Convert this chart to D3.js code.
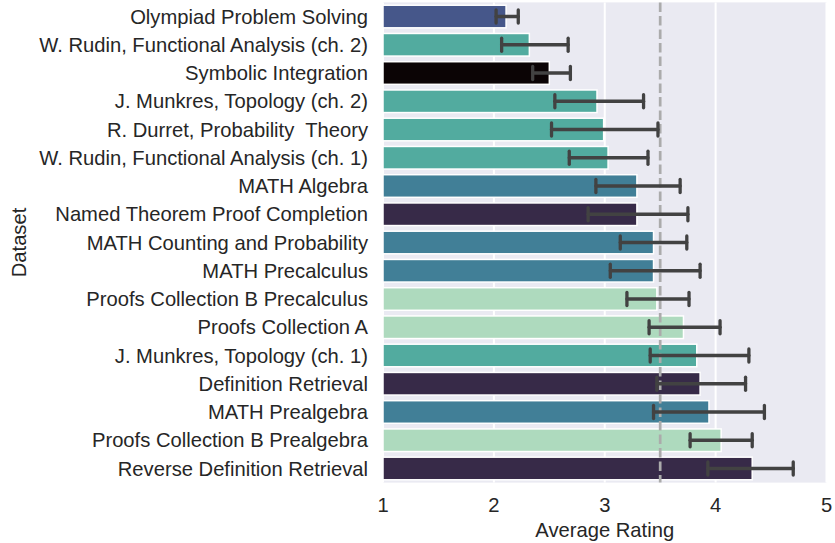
<!DOCTYPE html>
<html>
<head>
<meta charset="utf-8">
<script src="https://cdn.jsdelivr.net/npm/d3@7"></script>
<style>
  html, body { margin: 0; padding: 0; background: #fff; }
  svg { display: block; font-family: "Liberation Sans", Arial, sans-serif; }
  text { white-space: pre; }
</style>
</head>
<body>
<svg id="chart" width="835" height="543"></svg>
<script>
const categories = [
  "Olympiad Problem Solving",
  "W. Rudin, Functional Analysis (ch. 2)",
  "Symbolic Integration",
  "J. Munkres, Topology (ch. 2)",
  "R. Durret, Probability  Theory",
  "W. Rudin, Functional Analysis (ch. 1)",
  "MATH Algebra",
  "Named Theorem Proof Completion",
  "MATH Counting and Probability",
  "MATH Precalculus",
  "Proofs Collection B Precalculus",
  "Proofs Collection A",
  "J. Munkres, Topology (ch. 1)",
  "Definition Retrieval",
  "MATH Prealgebra",
  "Proofs Collection B Prealgebra",
  "Reverse Definition Retrieval"
];
const means = [2.11, 2.32, 2.50, 2.93, 2.99, 3.03, 3.29, 3.29, 3.44, 3.44, 3.47, 3.71, 3.83, 3.86, 3.94, 4.05, 4.33];
const errLow = [2.02, 2.07, 2.35, 2.55, 2.52, 2.68, 2.92, 2.85, 3.14, 3.05, 3.20, 3.40, 3.41, 3.47, 3.44, 3.77, 3.93];
const errHigh = [2.22, 2.67, 2.69, 3.35, 3.48, 3.39, 3.68, 3.75, 3.74, 3.86, 3.76, 4.04, 4.30, 4.27, 4.44, 4.33, 4.70];
const groups = ["olympiad", "book", "symbolic", "book", "book", "book", "math", "named", "math", "math", "proofs", "proofs", "book", "named", "math", "proofs", "named"];
const groupColors = {
  olympiad: "#46578a",
  book: "#52ab9f",
  symbolic: "#0b0405",
  math: "#417f97",
  named: "#372a48",
  proofs: "#aedabe"
};
const xTicks = [1, 2, 3, 4, 5];
const threshold = 3.5;

const svg = d3.select("#chart");
const plot = { left: 383, right: 826.5, top: 2.4, bottom: 482.6 };

const x = d3.scaleLinear().domain([1, 5]).range([plot.left, plot.right]);
const yStep = d3.scaleBand().domain(categories).range([plot.top, plot.bottom]);

svg.append("rect")
  .attr("x", plot.left).attr("y", plot.top)
  .attr("width", plot.right - plot.left).attr("height", plot.bottom - plot.top)
  .attr("fill", "#eaeaf2");

svg.append("g").selectAll("line").data(xTicks).join("line")
  .attr("x1", d => x(d)).attr("x2", d => x(d))
  .attr("y1", plot.top).attr("y2", plot.bottom)
  .attr("stroke", "#ffffff").attr("stroke-width", 2);

const barH = yStep.bandwidth() * 0.8;
svg.append("g").selectAll("rect").data(categories).join("rect")
  .attr("x", x(1))
  .attr("y", d => yStep(d) + yStep.bandwidth() / 2 - barH / 2)
  .attr("width", (d, i) => x(means[i]) - x(1))
  .attr("height", barH)
  .attr("fill", (d, i) => groupColors[groups[i]])
  .attr("stroke", "#ffffff").attr("stroke-width", 1.5);

// threshold dashed line
svg.append("line")
  .attr("x1", x(threshold)).attr("x2", x(threshold))
  .attr("y1", plot.top).attr("y2", plot.bottom)
  .attr("stroke", "#ababab").attr("stroke-width", 2.7)
  .attr("stroke-dasharray", "9.5 4");

// error bars
const eb = svg.append("g").attr("stroke", "#424242").attr("stroke-width", 3.3).attr("stroke-linecap", "round");
categories.forEach((c, i) => {
  const cy = yStep(c) + yStep.bandwidth() / 2;
  eb.append("line").attr("x1", x(errLow[i])).attr("x2", x(errHigh[i])).attr("y1", cy).attr("y2", cy);
  [errLow[i], errHigh[i]].forEach(v => {
    eb.append("line").attr("x1", x(v)).attr("x2", x(v)).attr("y1", cy - 6.5).attr("y2", cy + 6.5);
  });
});

// y tick labels
svg.append("g").selectAll("text").data(categories).join("text")
  .attr("x", plot.left - 15)
  .attr("y", d => yStep(d) + yStep.bandwidth() / 2)
  .attr("dy", "0.35em")
  .attr("text-anchor", "end")
  .attr("font-size", 20.2)
  .attr("fill", "#262626")
  .text(d => d);

// x tick labels
svg.append("g").selectAll("text").data(xTicks).join("text")
  .attr("x", d => x(d))
  .attr("y", 512)
  .attr("text-anchor", "middle")
  .attr("font-size", 20.2)
  .attr("fill", "#262626")
  .text(d => d);

svg.append("text")
  .attr("x", (plot.left + plot.right) / 2)
  .attr("y", 537)
  .attr("text-anchor", "middle")
  .attr("font-size", 20.2)
  .attr("fill", "#262626")
  .text("Average Rating");

svg.append("text")
  .attr("transform", `translate(26,${(plot.top + plot.bottom) / 2}) rotate(-90)`)
  .attr("text-anchor", "middle")
  .attr("font-size", 20.2)
  .attr("fill", "#262626")
  .text("Dataset");
</script>
</body>
</html>
